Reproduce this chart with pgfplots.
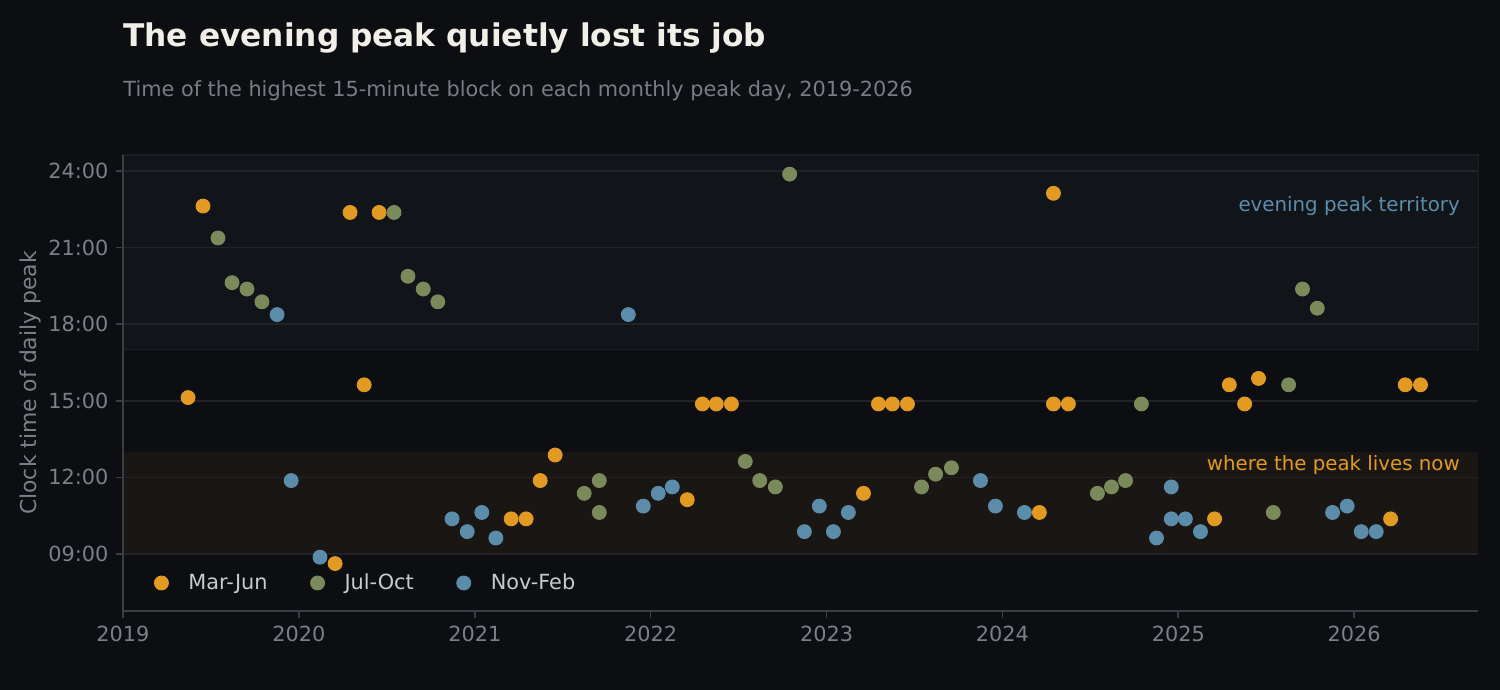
\documentclass[border=0pt]{standalone}
\usepackage{pgfplots}
\usepackage{pgfplotstable}
\pgfplotsset{compat=1.18}
\usepackage{fontspec}
\setmainfont{DejaVu Sans}

\definecolor{bg}{RGB}{13,14,18}
\definecolor{bandhi}{RGB}{17,20,25}
\definecolor{bandhiedge}{RGB}{27,30,36}
\definecolor{bandlo}{RGB}{26,22,19}
\definecolor{gridc}{RGB}{33,35,41}
\definecolor{spinec}{RGB}{58,61,68}
\definecolor{tickc}{RGB}{125,127,136}
\definecolor{titlec}{RGB}{242,239,232}
\definecolor{subc}{RGB}{122,124,133}
\definecolor{legc}{RGB}{200,202,208}
\definecolor{corange}{RGB}{226,154,34}
\definecolor{cgreen}{RGB}{122,138,90}
\definecolor{cblue}{RGB}{91,141,171}

% x = decimal year of the peak day, y = clock hour (middle of the 15-minute block)
\pgfplotstableread{
x y
2019.370 15.125
2019.455 22.625
2020.206 8.625
2020.291 22.375
2020.371 15.625
2020.456 22.375
2021.207 10.375
2021.292 10.375
2021.372 11.875
2021.457 12.875
2022.208 11.125
2022.294 14.875
2022.373 14.875
2022.459 14.875
2023.210 11.375
2023.295 14.875
2023.374 14.875
2023.460 14.875
2024.210 10.625
2024.290 23.125
2024.290 14.875
2024.375 14.875
2025.206 10.375
2025.290 15.625
2025.377 14.875
2025.456 15.875
2026.207 10.375
2026.290 15.625
2026.377 15.625
}\marjun

\pgfplotstableread{
x y
2019.540 21.375
2019.620 19.625
2019.705 19.375
2019.790 18.875
2020.541 22.375
2020.620 19.875
2020.707 19.375
2020.790 18.875
2021.622 11.375
2021.708 11.875
2021.708 10.625
2022.538 12.625
2022.620 11.875
2022.709 11.625
2022.790 23.875
2023.540 11.625
2023.620 12.125
2023.710 12.375
2024.540 11.375
2024.620 11.625
2024.700 11.875
2024.790 14.875
2025.540 10.625
2025.627 15.625
2025.706 19.375
2025.790 18.625
}\juloct

\pgfplotstableread{
x y
2019.876 18.375
2019.956 11.875
2020.120 8.875
2020.871 10.375
2020.957 9.875
2021.040 10.625
2021.120 9.625
2021.873 18.375
2021.958 10.875
2022.043 11.375
2022.123 11.625
2022.874 9.875
2022.959 10.875
2023.039 9.875
2023.124 10.625
2023.875 11.875
2023.960 10.875
2024.125 10.625
2024.876 9.625
2024.960 11.625
2024.960 10.375
2025.040 10.375
2025.126 9.875
2025.877 10.625
2025.960 10.875
2026.040 9.875
2026.125 9.875
}\novfeb

\pgfplotsset{
  dot/.style={only marks, mark=*, mark size=3.36pt, mark options={draw=none}},
  dotlegend/.style={legend image code/.code={\draw[mark repeat=1,##1] plot coordinates {(0pt,0pt)};}},
}

\begin{document}
\begin{tikzpicture}
% page size 720pt x 331.2pt (the dark page fill is drawn inside the axis, on its bottom layer)
\path (0,0) rectangle (720pt,331.2pt);

\node[anchor=base west, inner sep=0pt, text=titlec, font=\fontsize{15}{18}\selectfont\bfseries]
  at (59.04pt,309.1pt) {The evening peak quietly lost its job};
\node[anchor=base west, inner sep=0pt, text=subc, font=\fontsize{10}{12}\selectfont]
  at (59.04pt,284.8pt) {Time of the highest 15-minute block on each monthly peak day, 2019-2026};

\begin{axis}[
  set layers, clip=false,
  at={(59.04pt,37.92pt)}, anchor=south west,
  scale only axis, width=650.5pt, height=218.9pt,
  xmin=2019, xmax=2026.705,
  ymin=6.767, ymax=24.627,
  axis x line*=bottom, axis y line*=left,
  axis line style={-, spinec, line width=0.8pt},
  tick align=outside, major tick length=3.5pt,
  tick style={spinec, line width=0.8pt},
  xtick={2019,2020,2021,2022,2023,2024,2025,2026},
  xticklabels={2019,2020,2021,2022,2023,2024,2025,2026},
  ytick={9,12,15,18,21,24},
  yticklabels={09:00,12:00,15:00,18:00,21:00,24:00},
  tick label style={font=\fontsize{10}{12}\selectfont, text=tickc},
  ymajorgrids, grid style={gridc, line width=0.8pt},
  ylabel={Clock time of daily peak},
  ylabel style={font=\fontsize{10.5}{12}\selectfont, text=tickc,
    at={(axis description cs:-0.0683,0.5)}, anchor=center},
  legend columns=3,
  legend style={draw=none, fill=none, inner sep=0pt,
    at={(axis description cs:0.0229,0.0614)}, anchor=west,
    font=\fontsize{10}{12}\selectfont, text=legc,
    /tikz/every odd column/.append style={column sep=7.6pt},
    /tikz/every even column/.append style={column sep=18.6pt}},
]
\begin{pgfonlayer}{axis background}
\fill[bg] (rel axis cs:-0.09076,-0.17323) rectangle (rel axis cs:1.01608,1.33979);
\end{pgfonlayer}

% shaded bands (evening territory above 17:00, daytime band 09:00-13:00)
\addplot[on layer=axis background, forget plot, fill=bandhi, draw=bandhiedge, line width=0.6pt]
  coordinates {(2019,17) (2026.705,17) (2026.705,24.627) (2019,24.627)} -- cycle;
\addplot[on layer=axis background, forget plot, fill=bandlo, draw=none]
  coordinates {(2019,9) (2026.705,9) (2026.705,13) (2019,13)} -- cycle;

\addplot[dot, dotlegend, color=corange] table[x=x, y=y] {\marjun};
\addlegendentry{Mar-Jun}
\addplot[dot, dotlegend, color=cgreen] table[x=x, y=y] {\juloct};
\addlegendentry{Jul-Oct}
\addplot[dot, dotlegend, color=cblue] table[x=x, y=y] {\novfeb};
\addlegendentry{Nov-Feb}

\node[anchor=base east, inner sep=0pt, text=cblue, font=\fontsize{9.5}{11}\selectfont]
  at (rel axis cs:0.9867,0.875) {evening peak territory};
\node[anchor=base east, inner sep=0pt, text=corange, font=\fontsize{9.5}{11}\selectfont]
  at (rel axis cs:0.9867,0.309) {where the peak lives now};
\end{axis}
\end{tikzpicture}
\end{document}
